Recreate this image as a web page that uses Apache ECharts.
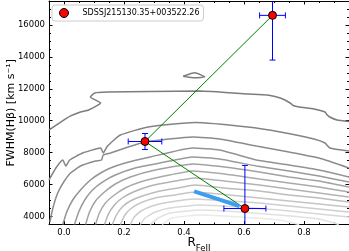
<!DOCTYPE html>
<html><head><meta charset="utf-8">
<script src="https://cdn.jsdelivr.net/npm/echarts@6/dist/echarts.min.js"></script>
<style>html,body{margin:0;padding:0;background:#fff}#c{width:349px;height:251px}</style>
</head><body><div id="c"></div>
<script>
// ---- data ----
var sourceName = 'SDSSJ215130.35+003522.26';
// [R_FeII, FWHM, xerr, yerr]
var epochA = [0.27, 8700, 0.056, 500];
var epochB = [0.695, 16600, 0.043, 2800];
var epochC = [0.603, 4500, 0.07, 2700];
var blueTrack = [[0.434, 5580], [0.585, 4650]];
var xTickLabels = [0, 0.2, 0.4, 0.6, 0.8];
var xMinorTicks = [-0.05,0,0.05,0.1,0.15,0.2,0.25,0.3,0.35,0.4,0.45,0.5,0.55,0.6,0.65,0.7,0.75,0.8,0.85,0.9,0.95];
var yTickLabels = [4000, 6000, 8000, 10000, 12000, 14000, 16000];
var yMinorTicks = [3500,4000,4500,5000,5500,6000,6500,7000,7500,8000,8500,9000,9500,10000,10500,11000,11500,12000,12500,13000,13500,14000,14500,15000,15500,16000,16500,17000,17500];

// density contours (outer -> inner)
var contour1 = [[-0.05,9420],[-0.011,9920],[0.022,10300],[0.055,10550],[0.082,10670],[0.122,11110],[0.088,11490],[0.102,11740],[0.145,11800],[0.287,11830],[0.453,11860],[0.612,11675],[0.678,11612],[0.721,11424],[0.754,11111],[0.764,10954],[0.784,10860],[0.833,10735],[0.87,10547],[0.876,10390],[0.886,10233],[0.91,10046],[0.95,9952]];
var contourIsland = [[0.397,12788],[0.436,13001],[0.469,12750],[0.436,12687],[0.397,12788]];
var contour2 = [[-0.05,6288],[-0.027,7039],[-0.004,7540],[0.006,7164],[0.019,7540],[0.062,7979],[0.122,8292],[0.131,7979],[0.145,8417],[0.188,9106],[0.28,9607],[0.436,9889],[0.612,9607],[0.721,9294],[0.833,8856],[0.87,8605],[0.886,8292],[0.95,8104]];
var contour3 = [[-0.047,3657],[-0.037,4534],[-0.021,5473],[-0.001,6162],[0.022,6726],[0.055,7164],[0.105,7477],[0.125,7540],[0.131,7854],[0.155,7979],[0.204,8292],[0.27,8668],[0.429,8981],[0.519,8856],[0.641,8417],[0.75,8041],[0.85,7665],[0.95,7039]];
var contour4 = [[-0.004,3500],[0.009,4283],[0.029,5035],[0.055,5661],[0.088,6288],[0.122,6726],[0.155,7039],[0.204,7352],[0.287,7728],[0.429,8292],[0.519,8167],[0.641,7540],[0.75,7227],[0.85,6914],[0.95,6475]];
var contour5 = [[0.035,3500],[0.049,4283],[0.069,5035],[0.095,5661],[0.128,6162],[0.171,6601],[0.237,7039],[0.32,7352],[0.429,7728],[0.519,7603],[0.641,7164],[0.75,6851],[0.85,6538],[0.95,6162]];
var contour6 = [[0.072,3500],[0.085,4283],[0.105,4972],[0.135,5536],[0.171,6037],[0.221,6476],[0.304,6914],[0.429,7290],[0.535,7102],[0.651,6789],[0.75,6476],[0.85,6225],[0.95,5849]];
var contour7 = [[0.105,3500],[0.118,4220],[0.138,4847],[0.168,5348],[0.204,5786],[0.254,6162],[0.32,6475],[0.429,6851],[0.535,6663],[0.651,6350],[0.75,6100],[0.85,5849],[0.95,5536]];
var contour8 = [[0.135,3500],[0.148,4158],[0.168,4722],[0.194,5160],[0.231,5536],[0.287,5912],[0.353,6162],[0.436,6413],[0.535,6225],[0.651,5974],[0.75,5724],[0.85,5473],[0.95,5223]];
var contour9 = [[0.161,3500],[0.175,4095],[0.194,4596],[0.221,4972],[0.261,5285],[0.32,5598],[0.38,5786],[0.436,5974],[0.535,5786],[0.651,5599],[0.75,5348],[0.85,5160],[0.95,4910]];
var contour10 = [[0.188,3500],[0.201,4032],[0.221,4471],[0.254,4847],[0.304,5160],[0.37,5348],[0.436,5536],[0.552,5348],[0.651,5160],[0.75,4972],[0.85,4784],[0.95,4596]];
var contour11 = [[0.221,3500],[0.234,3970],[0.257,4346],[0.294,4659],[0.353,4909],[0.436,5097],[0.552,4972],[0.651,4847],[0.75,4659],[0.85,4471],[0.95,4283]];
var contour12 = [[0.254,3500],[0.27,3907],[0.304,4283],[0.353,4534],[0.453,4722],[0.585,4596],[0.717,4408],[0.85,4158],[0.95,3970]];
var contour13 = [[0.287,3500],[0.314,3907],[0.353,4220],[0.453,4408],[0.585,4283],[0.717,4095],[0.85,3845],[0.916,3500]];
var contour14 = [[0.327,3500],[0.36,3907],[0.453,4095],[0.585,3970],[0.717,3782],[0.784,3500]];

var contours = [contour1, contourIsland, contour2, contour3, contour4, contour5, contour6, contour7, contour8, contour9, contour10, contour11, contour12, contour13, contour14];
var contourColors = ['#7c7c7c','#7c7c7c','#848484','#8b8b8b','#939393','#9a9a9a','#a2a2a2','#aaaaaa','#b3b3b3','#bcbcbc','#c5c5c5','#cecece','#d8d8d8','#e1e1e1','#eaeaea'];

var FONT = 'DejaVu Sans';
var chart = echarts.init(document.getElementById('c'), null, {renderer: 'canvas'});

function axisBase(pos, isX, custom, len, showLabel, showLine) {
  return {
    type: 'value', position: pos,
    min: isX ? -0.05 : 3500, max: isX ? 0.95 : 17500,
    splitLine: {show: false},
    nameMoveOverlap: false,
    axisLine: {show: showLine, onZero: false, lineStyle: {color: '#000', width: 1}},
    axisTick: {show: true, inside: true, length: len, customValues: custom, lineStyle: {color: '#000', width: 1}},
    axisLabel: {show: showLabel, customValues: custom, color: '#000', fontFamily: FONT, fontSize: 8.5, margin: 4,
      formatter: function (v) { return isX ? v.toFixed(1) : String(v); }}
  };
}

var xAxes = [
  axisBase('bottom', true, xTickLabels, 3.5, true, true),
  axisBase('bottom', true, xMinorTicks, 2, false, false),
  axisBase('top', true, xTickLabels, 3.5, false, true),
  axisBase('top', true, xMinorTicks, 2, false, false)
];
xAxes[0].name = '{r|R}{s|FeII}';
xAxes[0].nameLocation = 'middle';
xAxes[0].nameGap = 12;
xAxes[0].nameTextStyle = {rich: {r: {fontFamily: FONT, fontSize: 12, color: '#000', verticalAlign: 'top'}, s: {fontFamily: FONT, fontSize: 8.5, color: '#000', padding: [8, 0, 0, 0], verticalAlign: 'top'}}};

var yAxes = [
  axisBase('left', false, yTickLabels, 3.5, true, true),
  axisBase('left', false, yMinorTicks, 2, false, false),
  axisBase('right', false, yTickLabels, 3.5, false, true),
  axisBase('right', false, yMinorTicks, 2, false, false)
];
yAxes[0].name = 'FWHM(H\u03b2) [km s\u207b\u00b9]';
yAxes[0].nameLocation = 'middle';
yAxes[0].nameGap = 32;
yAxes[0].nameTextStyle = {fontFamily: FONT, fontSize: 11, color: '#000'};

var series = [];
contours.forEach(function (c, i) {
  series.push({type: 'line', data: c, showSymbol: false, smooth: 0.15, silent: true, z: 1,
    lineStyle: {color: contourColors[i], width: 1.5}});
});
series.push({type: 'line', data: [epochB.slice(0, 2), epochA.slice(0, 2), epochC.slice(0, 2)], showSymbol: false, silent: true, z: 3,
  lineStyle: {color: '#008000', width: 1}});
series.push({type: 'line', data: blueTrack, showSymbol: false, silent: true, z: 3,
  lineStyle: {color: '#3d9df0', width: 4}});
series.push({
  type: 'custom', clip: true, z: 4, silent: true,
  data: [epochA, epochB, epochC],
  renderItem: function (params, api) {
    var x = api.value(0), y = api.value(1), ex = api.value(2), ey = api.value(3);
    var l = api.coord([x - ex, y]), r = api.coord([x + ex, y]);
    var t = api.coord([x, y + ey]), b = api.coord([x, y - ey]);
    var cap = 3;
    var st = {stroke: '#0000ff', lineWidth: 1};
    var segs = [
      [l[0], l[1], r[0], r[1]], [t[0], t[1], b[0], b[1]],
      [l[0], l[1] - cap, l[0], l[1] + cap], [r[0], r[1] - cap, r[0], r[1] + cap],
      [t[0] - cap, t[1], t[0] + cap, t[1]], [b[0] - cap, b[1], b[0] + cap, b[1]]
    ];
    return {type: 'group', children: segs.map(function (s) {
      return {type: 'line', shape: {x1: s[0], y1: s[1], x2: s[2], y2: s[3]}, style: st};
    })};
  }
});
series.push({type: 'scatter', name: sourceName, z: 5,
  data: [epochA.slice(0, 2), epochB.slice(0, 2), epochC.slice(0, 2)],
  symbol: 'circle', symbolSize: 8,
  itemStyle: {color: '#ff0000', borderColor: '#000', borderWidth: 1, opacity: 1}});

chart.setOption({
  animation: false,
  backgroundColor: '#fff',
  grid: {left: 49, right: 0, top: 1, bottom: 26.5, containLabel: false, outerBoundsMode: 'none'},
  xAxis: xAxes,
  yAxis: yAxes,
  legend: {
    data: [{name: sourceName, icon: 'circle'}], left: 52, top: 5, orient: 'vertical',
    itemWidth: 9, itemHeight: 9, padding: [3, 4, 3, 7],
    backgroundColor: 'rgba(255,255,255,0.85)', borderColor: '#cccccc', borderWidth: 1, borderRadius: 3,
    textStyle: {fontFamily: FONT, fontSize: 8, color: '#000', padding: [0, 0, 0, 9]},
    itemStyle: {color: '#ff0000', borderColor: '#000', borderWidth: 1}
  },
  series: series
});
</script></body></html>
